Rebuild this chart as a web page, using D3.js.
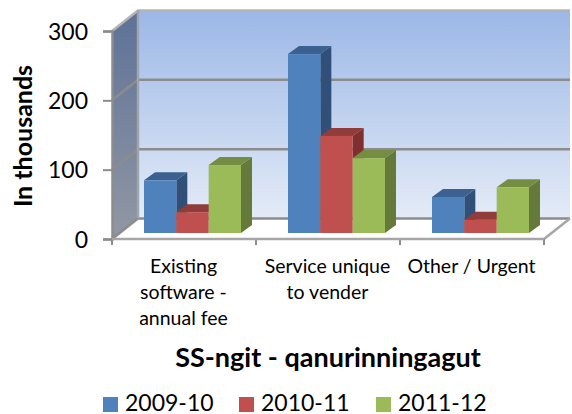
<!DOCTYPE html>
<html>
<head>
<meta charset="utf-8">
<script src="https://cdn.jsdelivr.net/npm/d3@7"></script>
<style>
  html, body { margin: 0; padding: 0; background: #fff; }
  svg { display: block; }
  text { font-family: Lato, "Open Sans", sans-serif; fill: #000; }
</style>
</head>
<body>
<svg width="572" height="414"></svg>
<script>
var categories = ["Existing software - annual fee", "Service unique to vender", "Other / Urgent"];
var categoryLines = [["Existing", "software -", "annual fee"], ["Service unique", "to vender"], ["Other / Urgent"]];
var series = ["2009-10", "2010-11", "2011-12"];
var values2009 = [76, 258, 52];
var values2010 = [30, 140, 19];
var values2011 = [98, 108, 66];
var yTicks = [0, 100, 200, 300];

var faceColors = ["#4f81bd", "#c0504d", "#9bbb59"];
var topColors = ["#3a6190", "#913c3a", "#748d43"];
var sideColors = ["#30507a", "#7f302e", "#65793a"];

var svg = d3.select("svg");

// front edge of the box, the back wall sits up and to the right of it
var depthX = 26, depthY = -20.5;
var barDepthX = 11, barDepthY = -8, barLift = 6;

var x0 = d3.scaleBand().domain(categories).range([112, 544]);
var x1 = d3.scaleBand().domain(series).range([32, 129]);
var y = d3.scaleLinear().domain([0, 300]).range([239, 31]);
var xLeft = x0.range()[0], xRight = x0.range()[1];

var defs = svg.append("defs");
var wallGrad = defs.append("linearGradient").attr("id", "wall").attr("x1", 0).attr("x2", 0).attr("y1", 0).attr("y2", 1);
wallGrad.append("stop").attr("offset", 0).attr("stop-color", "#9cb7e6");
wallGrad.append("stop").attr("offset", 1).attr("stop-color", "#e4ebf7");
var sideGrad = defs.append("linearGradient").attr("id", "side").attr("x1", 0).attr("x2", 0).attr("y1", 0).attr("y2", 1);
sideGrad.append("stop").attr("offset", 0).attr("stop-color", "#5d7297");
sideGrad.append("stop").attr("offset", 1).attr("stop-color", "#9297a3");

function poly(points) { return points.map(function(p) { return p.join(","); }).join(" "); }

// back wall and side wall
svg.append("rect")
    .attr("x", xLeft + depthX)
    .attr("y", y(300) + depthY)
    .attr("width", xRight - xLeft)
    .attr("height", y(0) - y(300))
    .attr("fill", "url(#wall)");

svg.append("polygon")
    .attr("points", poly([[xLeft, y(300)], [xLeft + depthX, y(300) + depthY], [xLeft + depthX, y(0) + depthY], [xLeft, y(0)]]))
    .attr("fill", "url(#side)");

// floor
svg.append("polygon")
    .attr("points", poly([[xLeft, y(0)], [xLeft + depthX, y(0) + depthY], [xRight + depthX, y(0) + depthY], [xRight, y(0)]]))
    .attr("fill", "#fff");

// gridlines run along the side wall then the back wall
var grid = svg.append("g").attr("fill", "none").attr("stroke", "#8c8c8c").attr("stroke-width", 2.5);
grid.selectAll("polyline")
  .data(yTicks)
  .enter().append("polyline")
    .attr("points", function(d) {
      return poly([[xLeft, y(d)], [xLeft + depthX, y(d) + depthY], [xRight + depthX, y(d) + depthY]]);
    })
    .attr("stroke", function(d) { return d === 300 ? "#b4b4b4" : "#8c8c8c"; });

grid.append("line")
    .attr("x1", xLeft + depthX).attr("x2", xLeft + depthX)
    .attr("y1", y(300) + depthY).attr("y2", y(0) + depthY)
    .attr("stroke", "#a0a4ac");

grid.append("line")
    .attr("x1", xRight).attr("x2", xRight + depthX)
    .attr("y1", y(0)).attr("y2", y(0) + depthY)
    .attr("stroke", "#a6a6a6");

// bars, drawn per category so later series cover the side of earlier ones
var rows = [values2009, values2010, values2011];
var bars = [];
categories.forEach(function(c, i) {
  series.forEach(function(s, j) {
    bars.push({ category: c, series: s, index: j, value: rows[j][i] });
  });
});

var bar = svg.append("g").selectAll("g")
  .data(bars)
  .enter().append("g");

function barX(d) { return x0(d.category) + x1(d.series); }
function barTop(d) { return y(d.value) - barLift; }
var barBase = y(0) - barLift;

bar.append("polygon")
    .attr("fill", function(d) { return sideColors[d.index]; })
    .attr("points", function(d) {
      var r = barX(d) + x1.bandwidth();
      return poly([[r, barTop(d)], [r + barDepthX, barTop(d) + barDepthY], [r + barDepthX, barBase + barDepthY], [r, barBase]]);
    });

bar.append("polygon")
    .attr("fill", function(d) { return topColors[d.index]; })
    .attr("points", function(d) {
      var l = barX(d), r = l + x1.bandwidth();
      return poly([[l, barTop(d)], [l + barDepthX, barTop(d) + barDepthY], [r + barDepthX, barTop(d) + barDepthY], [r, barTop(d)]]);
    });

bar.append("rect")
    .attr("x", barX)
    .attr("y", barTop)
    .attr("width", x1.bandwidth())
    .attr("height", function(d) { return barBase - barTop(d); })
    .attr("fill", function(d) { return faceColors[d.index]; });

// axes
var yAxis = svg.append("g")
    .attr("transform", "translate(" + xLeft + ",0)")
    .call(d3.axisLeft(y).tickValues(yTicks).tickSize(9).tickPadding(15));
yAxis.selectAll("text").style("font-size", "23px").attr("dy", "0.36em");
yAxis.selectAll("line").attr("stroke", "#8c8c8c").attr("stroke-width", 2);
yAxis.select(".domain").attr("stroke", "#8c8c8c").attr("stroke-width", 2.5);

var tickPositions = categories.map(function(c) { return x0(c); }).concat([xRight]);
svg.append("g").selectAll("line")
  .data(tickPositions)
  .enter().append("line")
    .attr("x1", function(d) { return d; })
    .attr("x2", function(d) { return d; })
    .attr("y1", y(0))
    .attr("y2", y(0) + 6)
    .attr("stroke", "#8c8c8c")
    .attr("stroke-width", 2);

svg.append("line")
    .attr("x1", xLeft).attr("x2", xRight)
    .attr("y1", y(0)).attr("y2", y(0))
    .attr("stroke", "#a6a6a6").attr("stroke-width", 2.5);

// category labels
svg.append("g").selectAll("text")
  .data(categories)
  .enter().append("text")
    .attr("text-anchor", "middle")
    .style("font-size", "19.5px")
    .each(function(c, i) {
      d3.select(this).selectAll("tspan")
        .data(categoryLines[i])
        .enter().append("tspan")
          .attr("x", x0(c) + x0.bandwidth() / 2 - 0.5)
          .attr("y", function(d, k) { return 273 + k * 26; })
          .text(function(d) { return d; });
    });

// titles
svg.append("text")
    .attr("x", 328)
    .attr("y", 367)
    .attr("text-anchor", "middle")
    .style("font-size", "27px")
    .style("font-weight", "bold")
    .text("SS-ngit - qanurinningagut");

svg.append("text")
    .attr("transform", "translate(32,136) rotate(-90)")
    .attr("text-anchor", "middle")
    .style("font-size", "25px")
    .style("font-weight", "bold")
    .text("In thousands");

// legend
var legendX = d3.scaleOrdinal().domain(series).range([103, 239, 376]);
var legend = svg.append("g").selectAll("g")
  .data(series)
  .enter().append("g")
    .attr("transform", function(d) { return "translate(" + legendX(d) + ",397)"; });

legend.append("rect")
    .attr("width", 15)
    .attr("height", 15)
    .attr("fill", function(d, i) { return faceColors[i]; });

legend.append("text")
    .attr("x", 22)
    .attr("y", 14)
    .style("font-size", "23px")
    .text(function(d) { return d; });
</script>
</body>
</html>
